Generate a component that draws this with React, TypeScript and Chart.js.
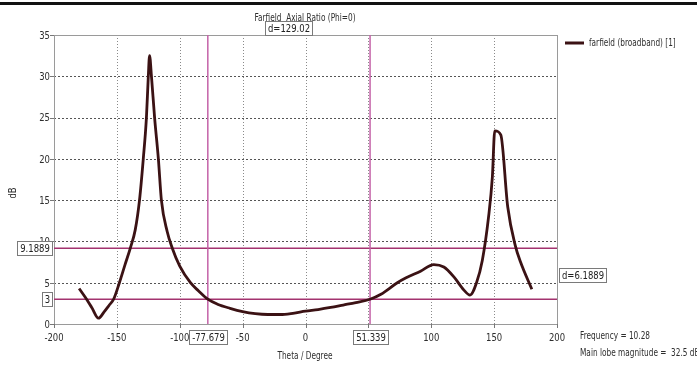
import React, { useEffect, useRef } from "react";
import { Chart, registerables } from "chart.js";

Chart.register(...registerables);

// ---- data ----
const thetaDeg: number[] = [
  -180, -175, -170, -164.6, -160, -156, -152.6, -148, -143.5, -139.3, -135.4, -132, -129, -126.5, -125, -124,
  -122.5, -120, -117, -114.6, -110, -106, -100, -91.5, -85, -77.7, -70, -60, -50, -40, -30, -20, -10,
  0, 10, 20, 30, 40, 51.3, 60, 73, 80, 91.5, 102, 110, 118, 126, 130.8, 136, 140.6, 145.6, 148.6,
  150.5, 155.3, 160.8, 167, 171, 180,
];
const axialRatioDb: number[] = [
  4.3, 3.2, 2.0, 0.7, 1.5, 2.3, 3.0, 5.0, 7.2, 9.2, 11.4, 15, 20, 25, 30, 32.5,
  30, 25, 20, 15, 11.2, 9.2, 7.0, 5.0, 4.0, 3.0, 2.4, 1.9, 1.5, 1.25, 1.15, 1.15, 1.3,
  1.55, 1.75, 2.0, 2.3, 2.6, 3.0, 3.6, 5.0, 5.6, 6.4, 7.2, 6.9, 5.7, 4.1, 3.5, 5.0, 7.7, 13, 17.8,
  23.4, 22.9, 14.2, 9.4, 7.5, 4.2,
];
const xTickValues: number[] = [-200, -150, -100, -50, 0, 50, 100, 150, 200];
const yTickValues: number[] = [0, 5, 10, 15, 20, 25, 30, 35];
const markerThetas: number[] = [-77.679, 51.339];
const markerLevels: number[] = [9.1889, 3];
const markerThetaLabels: string[] = ["-77.679", "51.339"];
const markerLevelLabels: string[] = ["9.1889", "3"];
const thetaDeltaLabel = "d=129.02";
const levelDeltaLabel = "d=6.1889";
const seriesName = "farfield (broadband) [1]";
const chartTitle = "Farfield  Axial Ratio (Phi=0)";
const xAxisTitle = "Theta / Degree";
const yAxisTitle = "dB";
const infoLines: string[] = ["Frequency = 10.28", "Main lobe magnitude =  32.5 dB"];

const FONT = '"DejaVu Sans", sans-serif';
const SX_NUM = 0.77;
const SX_TXT = 0.67;
const TEXT = "#2e2e2e";
const CURVE = "#3b1214";
const MAG_H = "#a3336f";
const MAG_V = "#c462a8";

function measure(ctx: CanvasRenderingContext2D, text: string, sx: number) {
  ctx.font = `11px ${FONT}`;
  return ctx.measureText(text).width * sx;
}

function txt(
  ctx: CanvasRenderingContext2D,
  text: string,
  x: number,
  y: number,
  align: "left" | "center" | "right" = "left",
  sx = SX_TXT,
  color = TEXT
) {
  ctx.save();
  ctx.font = `11px ${FONT}`;
  ctx.fillStyle = color;
  ctx.textBaseline = "middle";
  ctx.textAlign = align;
  ctx.translate(x, y);
  ctx.scale(sx, 1);
  ctx.fillText(text, 0, 0);
  ctx.restore();
}

function boxLabel(ctx: CanvasRenderingContext2D, text: string, cx: number, cy: number, align: "center" | "right" | "left" = "center") {
  const w = Math.round(measure(ctx, text, SX_NUM) + 5);
  const h = 14;
  let x = cx - w / 2;
  if (align === "right") x = cx - w;
  if (align === "left") x = cx;
  x = Math.round(x);
  const y = Math.round(cy - h / 2);
  ctx.save();
  ctx.fillStyle = "#ffffff";
  ctx.fillRect(x, y, w, h);
  ctx.strokeStyle = "#7a7a7a";
  ctx.lineWidth = 1;
  ctx.strokeRect(x + 0.5, y + 0.5, w, h);
  ctx.restore();
  txt(ctx, text, x + w / 2 + 0.5, y + h / 2 + 1, "center", SX_NUM, "#222");
}

const decorPlugin = {
  id: "decor",
  beforeDatasetsDraw(chart: any) {
    const { ctx, chartArea: a, scales } = chart;
    const xs = scales.x;
    const ys = scales.y;
    ctx.save();
    // vertical dotted grid
    ctx.strokeStyle = "#8a8a8a";
    ctx.lineWidth = 1;
    ctx.setLineDash([1, 2]);
    xTickValues.forEach((v) => {
      if (v === xs.min || v === xs.max) return;
      const px = Math.round(xs.getPixelForValue(v)) + 0.5;
      ctx.beginPath();
      ctx.moveTo(px, a.top);
      ctx.lineTo(px, a.bottom);
      ctx.stroke();
    });
    // horizontal dashed grid
    ctx.strokeStyle = "#555";
    ctx.setLineDash([2, 2]);
    yTickValues.forEach((v) => {
      if (v === ys.min || v === ys.max) return;
      const py = Math.round(ys.getPixelForValue(v)) + 0.5;
      ctx.beginPath();
      ctx.moveTo(a.left, py);
      ctx.lineTo(a.right, py);
      ctx.stroke();
    });
    ctx.setLineDash([]);
    // frame
    ctx.strokeStyle = "#9a9a9a";
    ctx.strokeRect(Math.round(a.left) + 0.5, Math.round(a.top) + 0.5, Math.round(a.right - a.left), Math.round(a.bottom - a.top));
    // tick marks
    ctx.strokeStyle = "#777";
    xTickValues.forEach((v) => {
      const px = Math.round(xs.getPixelForValue(v)) + 0.5;
      ctx.beginPath();
      ctx.moveTo(px, a.bottom);
      ctx.lineTo(px, a.bottom + 4);
      ctx.stroke();
    });
    yTickValues.forEach((v) => {
      const py = Math.round(ys.getPixelForValue(v)) + 0.5;
      ctx.beginPath();
      ctx.moveTo(a.left - 4, py);
      ctx.lineTo(a.left, py);
      ctx.stroke();
    });
    // marker lines
    ctx.lineWidth = 1.5;
    ctx.strokeStyle = MAG_H;
    markerLevels.forEach((v) => {
      const py = ys.getPixelForValue(v);
      ctx.beginPath();
      ctx.moveTo(a.left, py);
      ctx.lineTo(a.right, py);
      ctx.stroke();
    });
    ctx.strokeStyle = MAG_V;
    markerThetas.forEach((v) => {
      const px = xs.getPixelForValue(v);
      ctx.beginPath();
      ctx.moveTo(px, a.top);
      ctx.lineTo(px, a.bottom);
      ctx.stroke();
    });
    ctx.restore();
  },
  afterDraw(chart: any) {
    const { ctx, chartArea: a, scales } = chart;
    const xs = scales.x;
    const ys = scales.y;
    const W = chart.width;
    ctx.save();
    // top black bar
    ctx.fillStyle = "#111";
    ctx.fillRect(0, 2, W, 3);
    // tick labels
    xTickValues.forEach((v) => {
      txt(ctx, String(v), xs.getPixelForValue(v), 338, "center", SX_NUM);
    });
    yTickValues.forEach((v) => {
      txt(ctx, String(v), a.left - 4, ys.getPixelForValue(v) + 1, "right", SX_NUM);
    });
    // axis titles
    txt(ctx, xAxisTitle, 305, 356, "center");
    ctx.save();
    ctx.translate(13, 193);
    ctx.rotate(-Math.PI / 2);
    txt(ctx, yAxisTitle, 0, 0, "center", SX_NUM);
    ctx.restore();
    // title
    txt(ctx, chartTitle, 305, 18, "center");
    // legend
    ctx.strokeStyle = CURVE;
    ctx.lineWidth = 3;
    ctx.beginPath();
    ctx.moveTo(565, 43);
    ctx.lineTo(584, 43);
    ctx.stroke();
    txt(ctx, seriesName, 589, 43, "left");
    // info
    txt(ctx, infoLines[0], a.right + 23, 336, "left");
    txt(ctx, infoLines[1], a.right + 23, 353, "left");
    // marker value boxes
    markerThetas.forEach((v, i) => {
      boxLabel(ctx, markerThetaLabels[i], xs.getPixelForValue(v), 337);
    });
    markerLevels.forEach((v, i) => {
      boxLabel(ctx, markerLevelLabels[i], a.left - 2, ys.getPixelForValue(v), "right");
    });
    const midX = xs.getPixelForValue((markerThetas[0] + markerThetas[1]) / 2);
    boxLabel(ctx, thetaDeltaLabel, midX, 27.5);
    const midY = ys.getPixelForValue((markerLevels[0] + markerLevels[1]) / 2);
    boxLabel(ctx, levelDeltaLabel, a.right + 2, midY + 1, "left");
    ctx.restore();
  },
};

export default function App() {
  const canvasRef = useRef<HTMLCanvasElement | null>(null);

  useEffect(() => {
    document.body.style.margin = "0";
    const canvas = canvasRef.current;
    if (!canvas) return;
    const points = thetaDeg.map((t, i) => ({ x: t, y: axialRatioDb[i] }));
    const chart = new Chart(canvas, {
      type: "line",
      data: {
        datasets: [
          {
            label: seriesName,
            data: points,
            borderColor: CURVE,
            borderWidth: 2.8,
            pointRadius: 0,
            cubicInterpolationMode: "monotone",
            fill: false,
          },
        ],
      },
      options: {
        animation: false,
        responsive: false,
        maintainAspectRatio: false,
        events: [],
        layout: { padding: { top: 35, right: 140, left: 0, bottom: 0 } },
        plugins: {
          legend: { display: false },
          title: { display: false },
          tooltip: { enabled: false },
        },
        scales: {
          x: {
            type: "linear",
            min: -200,
            max: 200,
            afterFit: (s: any) => {
              s.height = 44;
            },
            grid: { display: false },
            border: { display: false },
            ticks: { display: false },
          },
          y: {
            type: "linear",
            min: 0,
            max: 35,
            afterFit: (s: any) => {
              s.width = 54;
            },
            grid: { display: false },
            border: { display: false },
            ticks: { display: false },
          },
        },
      },
      plugins: [decorPlugin],
    } as any);
    return () => chart.destroy();
  }, []);

  return (
    <div style={{ position: "absolute", left: 0, top: 0, width: 697, height: 368, background: "#fff" }}>
      <canvas ref={canvasRef} width={697} height={368} style={{ width: 697, height: 368, display: "block" }} />
    </div>
  );
}
